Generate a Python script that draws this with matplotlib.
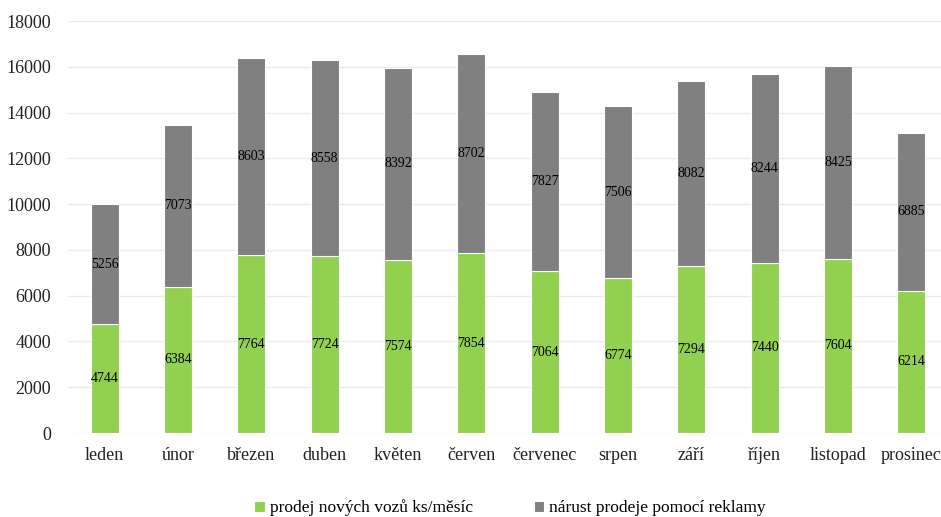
import matplotlib.pyplot as plt
import numpy as np

mesice = ["leden", "únor", "březen", "duben", "květen", "červen",
          "červenec", "srpen", "září", "říjen", "listopad", "prosinec"]
prodej = [4744, 6384, 7764, 7724, 7574, 7854, 7064, 6774, 7294, 7440, 7604, 6214]
narust = [5256, 7073, 8603, 8558, 8392, 8702, 7827, 7506, 8082, 8244, 8425, 6885]

plt.rcParams['font.family'] = ['Liberation Serif', 'DejaVu Serif']

fig = plt.figure(figsize=(9.41, 5.17), dpi=100)
ax = fig.add_axes([68 / 941, 1 - 433 / 517, 880 / 941, 412 / 517])

x = np.arange(len(mesice))
w = 0.38
b1 = ax.bar(x, prodej, w, color="#92D050", edgecolor="white", linewidth=0.8,
            label="prodej nových vozů ks/měsíc", zorder=3)
b2 = ax.bar(x, narust, w, bottom=prodej, color="#808080", edgecolor="white",
            linewidth=0.8, label="nárust prodeje pomocí reklamy", zorder=3)

# value labels in the middle of each segment
for i in range(len(mesice)):
    ax.text(x[i], prodej[i] / 2, str(prodej[i]), ha="center", va="center",
            fontsize=10, color="black", zorder=4)
    ax.text(x[i], prodej[i] + narust[i] / 2, str(narust[i]), ha="center",
            va="center", fontsize=10, color="black", zorder=4)

ax.set_xlim(-0.5, len(mesice) - 0.5)
ax.set_ylim(0, 18000)
ax.set_yticks(np.arange(0, 18001, 2000))
ax.set_xticks(x)
ax.set_xticklabels(mesice)
ax.tick_params(axis="both", length=0, labelsize=13, colors="#222222")
ax.tick_params(axis="x", pad=10)
ax.tick_params(axis="y", pad=12)
ax.grid(axis="y", color="#EBEBEB", linewidth=1, zorder=0)
for s in ax.spines.values():
    s.set_visible(False)

fig.legend(handles=[b1, b2], loc="center", bbox_to_anchor=(510 / 941, 1 - 508 / 517),
           ncol=2, frameon=False, fontsize=12.5, handlelength=0.6, handleheight=0.6,
           handletextpad=0.3, columnspacing=3.5)

fig.savefig("out.png", dpi=100)
